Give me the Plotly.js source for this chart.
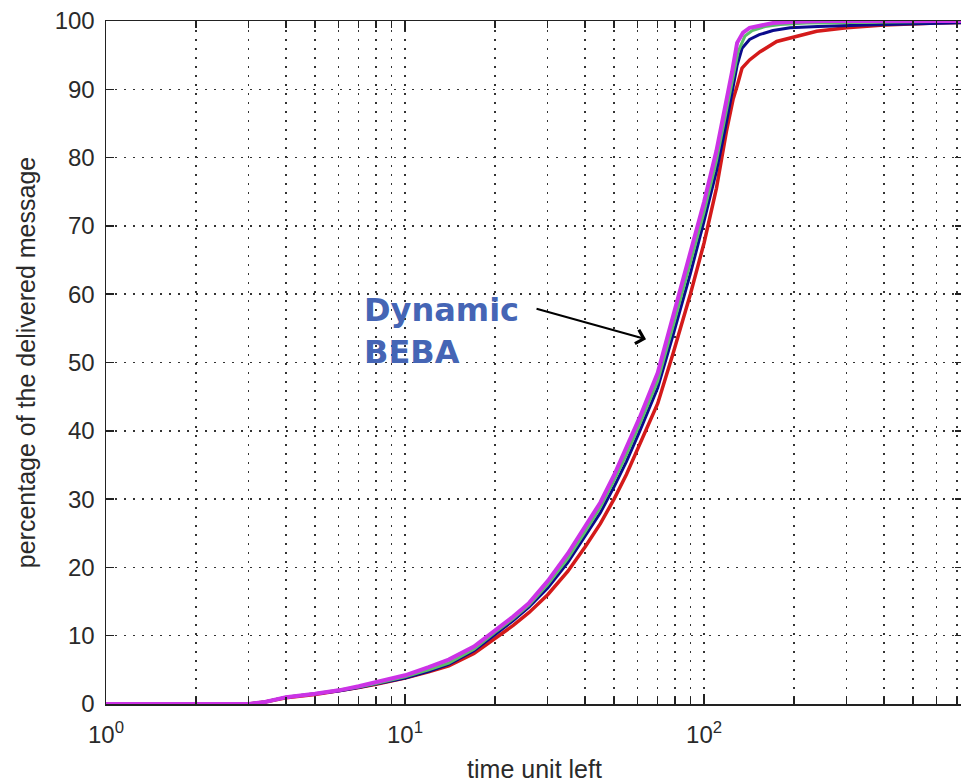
<!DOCTYPE html>
<html>
<head>
<meta charset="utf-8">
<script src="https://cdn.plot.ly/plotly-3.0.1.min.js"></script>
<style>
html, body { margin: 0; padding: 0; overflow: hidden; background: #fff; }
#chart { width: 975px; height: 783px; }
</style>
</head>
<body>
<div id="chart"></div>
<script>
// ---- data ----
const redX = [1, 3, 3.4, 4, 5, 6, 7, 8, 10, 12, 14, 17, 20, 23, 26, 30, 35, 40, 45, 50, 55, 61, 70, 79, 90, 100, 110, 119, 125, 129, 134, 142, 154, 175, 200, 238, 300, 400, 600, 800];
const redY = [0, 0, 0.3, 0.9, 1.4, 1.9, 2.4, 2.9, 3.8, 4.7, 5.6, 7.4, 9.6, 11.5, 13.4, 16.0, 19.4, 23.0, 26.4, 30.0, 33.6, 38, 44, 51.5, 60, 67.5, 75.5, 84, 88.5, 90.5, 93.1, 94.3, 95.5, 97.0, 97.7, 98.5, 99.0, 99.4, 99.7, 99.8];

const blueX = [1, 3, 3.4, 4, 5, 6, 7, 8, 10, 12, 14, 17, 20, 23, 26, 30, 35, 40, 45, 50, 55, 61, 70, 79, 90, 100, 110, 118, 124, 129, 134, 142, 153, 170, 194, 240, 350, 500, 800];
const blueY = [0, 0, 0.3, 1.0, 1.5, 1.9, 2.4, 2.9, 3.8, 4.8, 5.8, 7.8, 10.2, 12.2, 14.2, 17.0, 20.7, 24.5, 28.0, 31.8, 35.5, 40, 46.3, 54.2, 63, 70.7, 78, 84.5, 89.5, 93.5, 96.0, 97.3, 98.0, 98.6, 99.0, 99.2, 99.4, 99.6, 99.8];

const greenX = [1, 3, 3.4, 4, 5, 6, 7, 8, 10, 12, 14, 17, 20, 23, 26, 30, 35, 40, 45, 50, 55, 61, 70, 79, 90, 100, 110, 118, 124, 130, 137, 145, 160, 180, 220, 300, 500, 800];
const greenY = [0, 0, 0.3, 1.0, 1.5, 2.0, 2.5, 3.0, 4.0, 5.0, 6.0, 8.0, 10.5, 12.5, 14.5, 17.5, 21.3, 25.2, 28.8, 32.7, 36.5, 41, 47.3, 55.5, 64.5, 72, 79.5, 86, 91, 95.5, 97.8, 98.6, 99.2, 99.5, 99.7, 99.8, 99.9, 100];

const magentaX = [1, 2, 3, 3.4, 4, 5, 6, 7, 8, 10, 12, 14, 17, 20, 23, 26, 30, 35, 40, 45, 50, 55, 61, 70, 79, 90, 100, 110, 118, 124, 129, 135, 142, 155, 170, 200, 250, 400, 800];
const magentaY = [0, 0, 0, 0.3, 1.0, 1.5, 2.0, 2.6, 3.2, 4.2, 5.4, 6.5, 8.4, 10.8, 12.8, 14.8, 18, 22, 26, 29.5, 33.5, 37.5, 42, 48.5, 57, 66, 73.5, 81, 87.5, 92.5, 96.8, 98.3, 99.0, 99.4, 99.7, 99.9, 100, 100, 100];

const xMajorTicks = [1, 10, 100];
const xMajorLabels = ['10<sup>0</sup>', '10<sup>1</sup>', '10<sup>2</sup>'];
const xMinorTicks = [2, 3, 4, 5, 6, 7, 8, 9, 20, 30, 40, 50, 60, 70, 80, 90, 200, 300, 400, 500, 600, 700];

const xTitle = 'time unit left';
const yTitle = 'percentage of the delivered message';
const noteText = 'Dynamic<br>BEBA';

// ---- chart ----
const font = 'Liberation Sans, Arial, sans-serif';
const noteFont = 'DejaVu Sans, Liberation Sans, sans-serif';
const gridDash = '2px,7px';

function series(x, y, color, width) {
  return { x: x, y: y, type: 'scatter', mode: 'lines', line: { color: color, width: width }, hoverinfo: 'skip', showlegend: false };
}

const traces = [
  series(redX, redY, '#d41a1a', 3.5),
  series(blueX, blueY, '#0a0a8c', 3),
  series(greenX, greenY, '#5cbf6a', 3),
  series(magentaX, magentaY, '#cc33e6', 4)
];

const layout = {
  width: 975,
  height: 783,
  margin: { l: 106, r: 12, t: 21, b: 79 },
  paper_bgcolor: '#fff',
  plot_bgcolor: '#fff',
  font: { family: font, color: '#2a2a2a', size: 24 },
  xaxis: {
    type: 'log',
    range: [0, 2.866],
    tickmode: 'array',
    tickvals: xMajorTicks,
    ticktext: xMajorLabels,
    ticks: 'inside',
    ticklen: 10,
    tickwidth: 1.5,
    tickcolor: '#222',
    ticklabelstandoff: 9,
    tickfont: { family: font, size: 24, color: '#2a2a2a' },
    showgrid: true,
    gridcolor: '#333',
    gridwidth: 1.5,
    griddash: gridDash,
    minor: { tickmode: 'array', tickvals: xMinorTicks, ticks: 'inside', ticklen: 7, tickwidth: 1.5, tickcolor: '#222', showgrid: true, gridcolor: '#333', gridwidth: 1.5, griddash: gridDash },
    showline: true,
    linecolor: '#222',
    linewidth: 1.5,
    mirror: 'allticks',
    zeroline: false,
    fixedrange: true,
    title: { text: xTitle, font: { family: font, size: 25, color: '#2a2a2a' }, standoff: 16 }
  },
  yaxis: {
    range: [0, 100],
    dtick: 10,
    ticks: 'inside',
    ticklen: 8,
    tickwidth: 1.5,
    tickcolor: '#222',
    ticklabelstandoff: 5,
    tickfont: { family: font, size: 24, color: '#2a2a2a' },
    showgrid: true,
    gridcolor: '#333',
    gridwidth: 1.5,
    griddash: gridDash,
    showline: true,
    linecolor: '#222',
    linewidth: 1.5,
    mirror: 'allticks',
    zeroline: false,
    fixedrange: true,
    title: { text: yTitle, font: { family: font, size: 25, color: '#2a2a2a' }, standoff: 12 }
  },
  annotations: [
    {
      x: 0.856, y: 54.6, xref: 'x', yref: 'y',
      text: noteText, showarrow: false,
      xanchor: 'left', yanchor: 'middle', align: 'left',
      font: { family: noteFont, size: 32, color: '#4565b5', weight: 'bold' }
    },
    {
      x: 1.806, y: 53.4, xref: 'x', yref: 'y',
      text: '', showarrow: true,
      ax: -111, ay: -31, axref: 'pixel', ayref: 'pixel',
      arrowhead: 4, arrowsize: 1.4, arrowwidth: 2, arrowcolor: '#000'
    }
  ]
};

Plotly.newPlot('chart', traces, layout, { displayModeBar: false, staticPlot: true });
</script>
</body>
</html>
